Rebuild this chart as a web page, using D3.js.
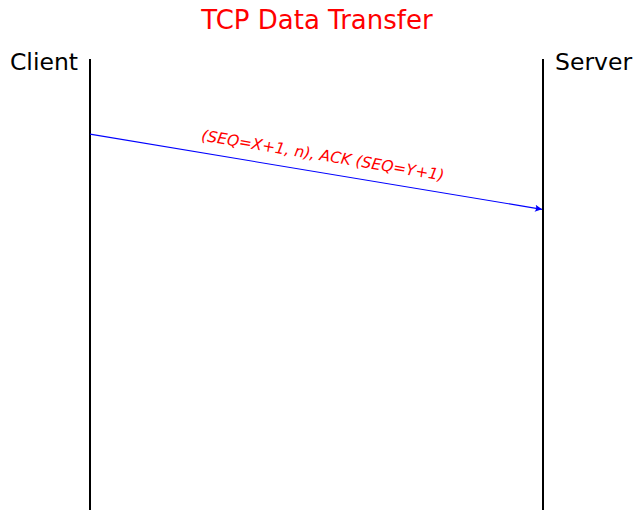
<!DOCTYPE html>
<html>
<head>
<meta charset="utf-8">
<script src="https://cdn.jsdelivr.net/npm/d3@7"></script>
<style>
  body { margin: 0; background: #fff; }
  text { font-family: "DejaVu Sans", sans-serif; }
</style>
</head>
<body>
<div id="chart"></div>
<script>
const width = 633;
const height = 510;

// 登場するホスト
const hosts = ["Client", "Server"];
// メッセージ（時刻は縦軸の単位）
const msgFrom = ["Client"];
const msgTo = ["Server"];
const msgStart = [1];
const msgEnd = [2];
const msgLabel = ["(SEQ=X+1, n), ACK (SEQ=Y+1)"];
const title = "TCP Data Transfer";

const x = d3.scalePoint()
    .domain(hosts)
    .range([90, 543])
;
const y = d3.scaleLinear()
    .domain([0, 6])
    .range([59, 510])
;

const svg = d3.create("svg")
    .attr("width", width)
    .attr("height", height)
    .attr("viewBox", [0, 0, width, height])
;

// 矢印
svg.append("defs").append("marker")
    .attr("id", "arrow")
    .attr("viewBox", "0 0 10 10")
    .attr("refX", 10)
    .attr("refY", 5)
    .attr("markerWidth", 9)
    .attr("markerHeight", 7)
    .attr("markerUnits", "userSpaceOnUse")
    .attr("orient", "auto")
  .append("path")
    .attr("d", "M0,0 L10,5 L0,10 Q3,5 0,0 Z")
    .attr("fill", "blue")
;

// タイトル
svg.append("text")
    .attr("x", 317)
    .attr("y", 29)
    .attr("text-anchor", "middle")
    .attr("font-size", 26)
    .attr("fill", "red")
    .text(title)
;

// ライフライン
svg.selectAll("line.life")
    .data(hosts)
    .join("line")
        .attr("class", "life")
        .attr("x1", d => x(d))
        .attr("x2", d => x(d))
        .attr("y1", y(0))
        .attr("y2", y(6))
        .attr("stroke", "black")
        .attr("stroke-width", 2)
;

// ホスト名
svg.selectAll("text.host")
    .data(hosts)
    .join("text")
        .attr("class", "host")
        .attr("x", (d, i) => i === 0 ? x(d) - 12 : x(d) + 12)
        .attr("y", 70)
        .attr("text-anchor", (d, i) => i === 0 ? "end" : "start")
        .attr("font-size", 23.5)
        .text(d => d)
;

const msgs = msgLabel.map((label, i) => ({
    x1: x(msgFrom[i]), y1: y(msgStart[i]),
    x2: x(msgTo[i]) - 1, y2: y(msgEnd[i]),
    label
}));

svg.selectAll("line.msg")
    .data(msgs)
    .join("line")
        .attr("class", "msg")
        .attr("x1", d => d.x1)
        .attr("y1", d => d.y1)
        .attr("x2", d => d.x2)
        .attr("y2", d => d.y2)
        .attr("stroke", "blue")
        .attr("stroke-width", 1.1)
        .attr("marker-end", "url(#arrow)")
;

svg.selectAll("text.msg")
    .data(msgs)
    .join("text")
        .attr("class", "msg")
        .attr("transform", d => {
            const a = Math.atan2(d.y2 - d.y1, d.x2 - d.x1) * 180 / Math.PI;
            const mx = (d.x1 + d.x2) / 2 + 4;
            const my = (d.y1 + d.y2) / 2 + 4 * Math.tan(a * Math.PI / 180);
            return `translate(${mx},${my}) rotate(${a}) translate(0,-12)`;
        })
        .attr("text-anchor", "middle")
        .attr("font-size", 15.5)
        .attr("font-style", "oblique")
        .attr("fill", "red")
        .text(d => d.label)
;

document.getElementById("chart").append(svg.node());
</script>
</body>
</html>
